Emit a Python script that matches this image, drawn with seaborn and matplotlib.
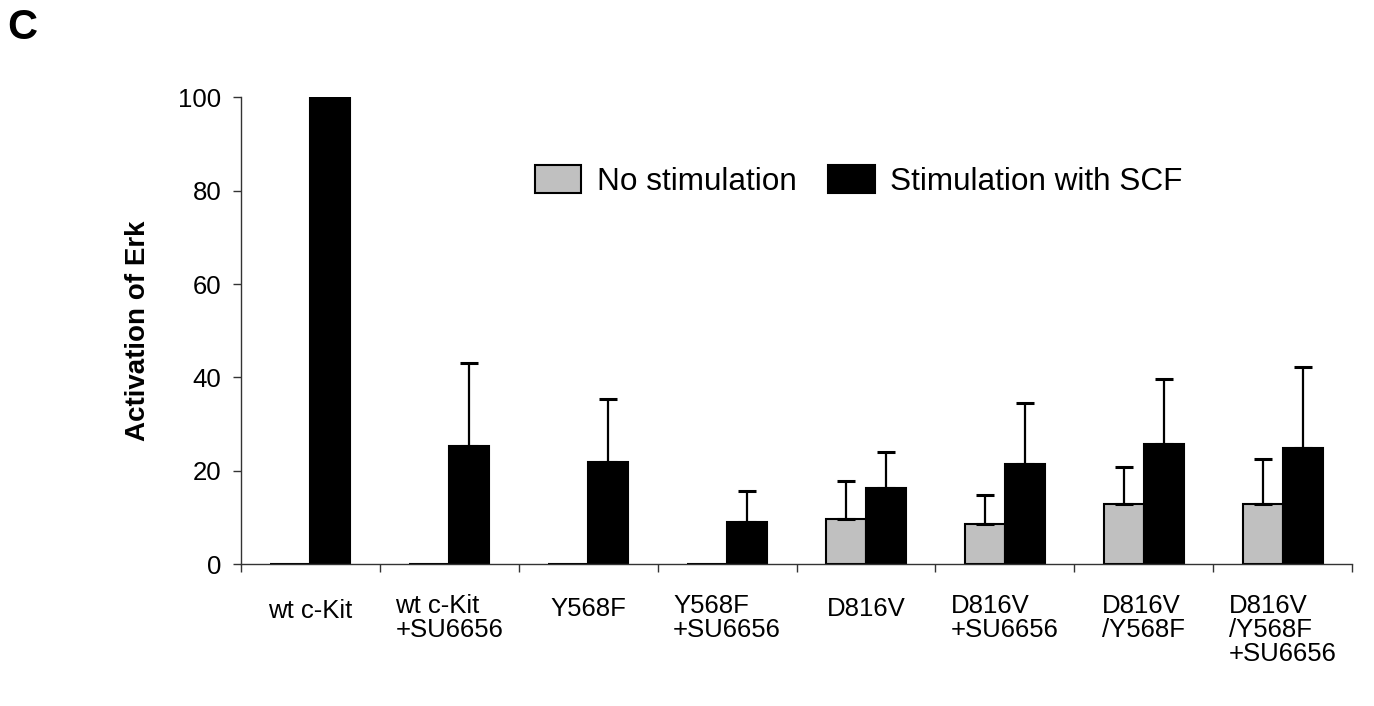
import numpy as np
import pandas as pd
import matplotlib
matplotlib.use("Agg")
import matplotlib.pyplot as plt
import seaborn as sns

categories = ["wt c-Kit", "wt c-Kit\n+SU6656", "Y568F", "Y568F\n+SU6656",
              "D816V", "D816V\n+SU6656", "D816V\n/Y568F", "D816V\n/Y568F\n+SU6656"]
series = ["No stimulation", "Stimulation with SCF"]
no_stim = [0, 0, 0, 0, 9.8, 8.6, 12.9, 12.9]
no_stim_err = [0, 0, 0, 0, 8.1, 6.2, 8.0, 9.7]
stim = [100, 25.3, 21.8, 9.0, 16.3, 21.5, 25.8, 24.9]
stim_err = [0, 17.9, 13.6, 6.8, 7.7, 13.1, 13.9, 17.4]
yticks = [0, 20, 40, 60, 80, 100]

sns.set_theme(style="white")
plt.rcParams["font.family"] = ["Liberation Sans", "DejaVu Sans"]
plt.rcParams["text.color"] = "black"
plt.rcParams["axes.labelcolor"] = "black"
plt.rcParams["xtick.color"] = "black"
plt.rcParams["ytick.color"] = "black"

W, H = 1374, 706
fig = plt.figure(figsize=(W / 100, H / 100), dpi=100)
ax = fig.add_axes([241 / W, 1 - 564.3 / H, (1352 - 241) / W, (564.3 - 97.3) / H])

df = pd.DataFrame({
    "cat": categories * 2,
    "series": [series[0]] * len(categories) + [series[1]] * len(categories),
    "val": no_stim + stim,
})
colors = {series[0]: "#c0c0c0", series[1]: "#000000"}
sns.barplot(data=df, x="cat", y="val", hue="series", order=categories,
            hue_order=series, palette=colors, width=0.576, saturation=1,
            edgecolor="black", linewidth=1.5, errorbar=None, ax=ax)

for cont, errs in zip(ax.containers, [no_stim_err, stim_err]):
    for p, e in zip(cont.patches, errs):
        if e > 0:
            xc = p.get_x() + p.get_width() / 2
            ax.errorbar([xc], [p.get_height()], yerr=[[0], [e]], fmt="none",
                        ecolor="black", elinewidth=1.6, capsize=6.5, capthick=2.2)

ax.set_xlim(-0.5, len(categories) - 0.5)
ax.set_ylim(0, 100)
ax.set_yticks(yticks)
ax.set_yticklabels([str(v) for v in yticks], fontsize=18.5)
ax.set_xticks(np.arange(-0.5, len(categories), 1.0))
ax.set_xticklabels([])
ax.tick_params(axis="both", direction="out", length=6, width=1, color="#333333",
               left=True, bottom=True, pad=8)
for s in ["top", "right"]:
    ax.spines[s].set_visible(False)
for s in ["left", "bottom"]:
    ax.spines[s].set_color("#333333")
    ax.spines[s].set_linewidth(1)

label_offsets = [-35, -30, -33, -30, -33, -30, -30, -30]
for i, (lab, off) in enumerate(zip(categories, label_offsets)):
    ax.annotate(lab, xy=(i, 0), xycoords=("data", "axes fraction"),
                xytext=(0, off), textcoords="offset pixels", ha="center",
                va="top", multialignment="left", fontsize=18.5, linespacing=1.0,
                color="black")

ax.set_xlabel("")
ax.set_ylabel("Activation of Erk", fontsize=20, fontweight="bold", labelpad=20,
              color="black")

leg = ax.legend(loc="upper left", bbox_to_anchor=(535 / W, 1 - 165 / H),
                bbox_transform=fig.transFigure, ncol=2, frameon=False,
                fontsize=22.7, handlelength=1.47, handleheight=1.0,
                handletextpad=0.5, columnspacing=1.0, borderpad=0,
                borderaxespad=0)
for t in leg.get_texts():
    t.set_color("black")
for h in leg.legend_handles:
    h.set_edgecolor("black")
    h.set_linewidth(1.5)

fig.text(7 / W, 1 - 8 / H, "C", fontsize=30, fontweight="bold", va="top",
         ha="left", color="black")

fig.savefig("out.png", dpi=100)
